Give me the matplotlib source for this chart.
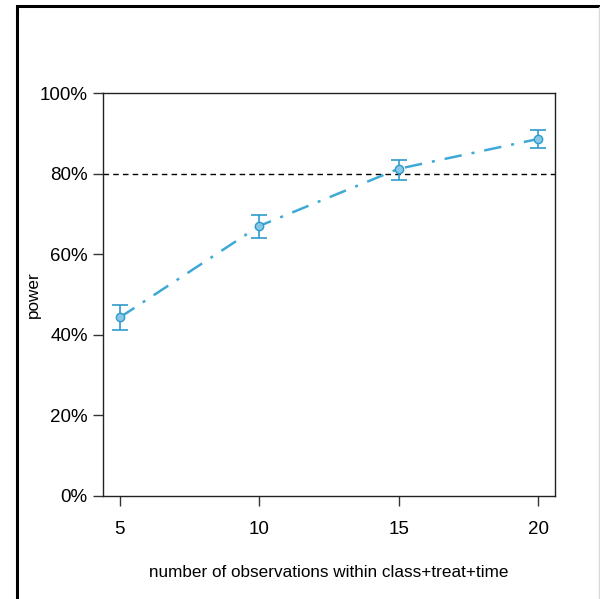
import matplotlib
matplotlib.use("Agg")
import matplotlib.pyplot as plt
from matplotlib.patches import Rectangle
from matplotlib.ticker import PercentFormatter

# data
n_obs = [5, 10, 15, 20]
power = [0.443, 0.670, 0.812, 0.886]
lower = [0.413, 0.640, 0.785, 0.863]
upper = [0.475, 0.697, 0.833, 0.907]
yticks = [0, 0.2, 0.4, 0.6, 0.8, 1.0]
target = 0.8

plt.rcParams['font.family'] = ['Liberation Sans', 'DejaVu Sans']

fig = plt.figure(figsize=(6, 5.99), dpi=100)
# outer frame like the screenshot border
fig.patches.append(Rectangle((17 / 600, -0.05), 1.0, 1 - 6 / 599 + 0.05,
                             transform=fig.transFigure, fill=False,
                             edgecolor='black', linewidth=2.2))
fig.patches.append(Rectangle((599 / 600, 0), 0.01, 1 - 7 / 599,
                             transform=fig.transFigure, fill=False,
                             edgecolor='#d8d8d8', linewidth=1))

ax = fig.add_axes([103 / 600, 1 - 496 / 599, 452 / 600, 403 / 599])

line_col = '#3fa9d6'
yerr = [[p - l for p, l in zip(power, lower)], [u - p for p, u in zip(power, upper)]]
ax.plot(n_obs, power, color=line_col, linestyle=(0, (7, 4, 1.2, 4)), linewidth=1.8, zorder=2)
ax.errorbar(n_obs, power, yerr=yerr, fmt='none', ecolor='#2f9bcc',
            elinewidth=1.2, capsize=6, capthick=1.2, zorder=3)
ax.plot(n_obs, power, 'o', markersize=6, markerfacecolor='#86c8e6',
        markeredgecolor='#2f9bcc', markeredgewidth=1, zorder=4)
ax.axhline(target, color='black', linestyle=(0, (4, 3)), linewidth=1, zorder=1)

ax.set_xlim(4.4, 20.6)
ax.set_ylim(0, 1)
ax.set_xticks(n_obs)
ax.set_yticks(yticks)
ax.yaxis.set_major_formatter(PercentFormatter(1.0, decimals=0))
ax.tick_params(axis='both', direction='out', length=7, width=1, colors='#333333',
               labelcolor='black', labelsize=13.5)
ax.tick_params(axis='x', pad=11)
ax.tick_params(axis='y', pad=4)
for s in ax.spines.values():
    s.set_color('#222222')
    s.set_linewidth(1)

ax.set_xlabel('number of observations within class+treat+time', fontsize=12.3)
ax.set_ylabel('power', fontsize=12.3)
ax.xaxis.set_label_coords(0.5, -0.17)
ax.yaxis.set_label_coords(-0.138, 0.5)

fig.savefig('out.png', dpi=100, facecolor='white')
